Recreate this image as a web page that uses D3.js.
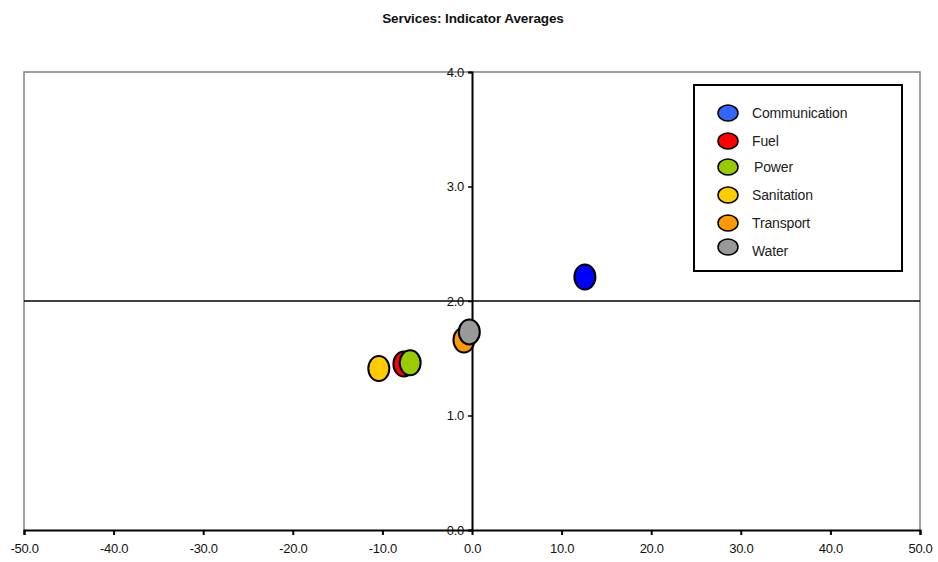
<!DOCTYPE html>
<html><head><meta charset="utf-8">
<script src="https://cdn.jsdelivr.net/npm/d3@7"></script>
<style>body{margin:0;background:#fff}svg{display:block;font-family:"Liberation Sans",Arial,sans-serif}</style>
</head><body><svg id="c" width="938" height="562"></svg>
<script>
const categories = ["Communication","Fuel","Power","Sanitation","Transport","Water"];
const xValues = [12.6, -7.6, -6.9, -10.4, -0.9, -0.3];
const yValues = [2.21, 1.45, 1.46, 1.41, 1.66, 1.73];
const pointColors = ["#0000FF","#FF0000","#99CC00","#FFCC00","#FF9900","#999999"];
const legendColors = ["#3366FF","#FF0000","#99CC00","#FFCC00","#FF9900","#999999"];
const xTicks = [-50,-40,-30,-20,-10,0,10,20,30,40,50];
const yTicks = [0,1,2,3,4];
const drawOrder = [3,1,2,4,5,0];

const svg = d3.select("#c");
const L=24,R=920,T=72,B=530;
const x = d3.scaleLinear().domain([-50,50]).range([L,R]);
const y = d3.scaleLinear().domain([0,4]).range([B,T]);
const fmt = d => d.toFixed(1);

svg.append("text").attr("x",473).attr("y",23).attr("text-anchor","middle")
  .attr("font-weight","bold").attr("font-size",13.5).attr("letter-spacing",-0.1).attr("fill","#111")
  .text("Services: Indicator Averages");

// plot border (grey)
svg.append("path").attr("d",`M${L},${B}V${T}H${R}V${B}`).attr("fill","none").attr("stroke","#808080").attr("stroke-width",1.5);

// horizontal line at y=2
svg.append("line").attr("x1",L).attr("x2",R).attr("y1",y(2)).attr("y2",y(2)).attr("stroke","#000").attr("stroke-width",1.5);

// x axis
const xa = svg.append("g").attr("transform",`translate(0,${B})`)
  .call(d3.axisBottom(x).tickValues(xTicks).tickFormat(fmt).tickSizeOuter(0).tickSize(5).tickPadding(9));
xa.select(".domain").attr("stroke","#000").attr("stroke-width",2);
xa.selectAll(".tick line").attr("stroke","#000").attr("stroke-width",2);
xa.selectAll("text").attr("font-size",13).attr("letter-spacing",-0.3).attr("fill","#111").attr("font-family","Liberation Sans, Arial, sans-serif");

// y axis at x=0
const ya = svg.append("g").attr("transform",`translate(${x(0)},0)`)
  .call(d3.axisLeft(y).tickValues(yTicks).tickFormat(fmt).tickSizeOuter(0).tickSize(4).tickPadding(4));
ya.select(".domain").attr("stroke","#000").attr("stroke-width",2);
ya.selectAll(".tick line").attr("stroke","#000").attr("stroke-width",1.5);
ya.selectAll("text").attr("font-size",13).attr("letter-spacing",-0.3).attr("fill","#111").attr("font-family","Liberation Sans, Arial, sans-serif");

// points
svg.append("g").selectAll("ellipse").data(drawOrder).join("ellipse")
  .attr("cx",i=>x(xValues[i])).attr("cy",i=>y(yValues[i]))
  .attr("rx",10.5).attr("ry",12.5)
  .attr("fill",i=>pointColors[i]).attr("stroke","#000").attr("stroke-width",2);

// legend
const lg = svg.append("g");
lg.append("rect").attr("x",694).attr("y",85).attr("width",208).attr("height",186)
  .attr("fill","#fff").attr("stroke","#000").attr("stroke-width",2);
const rowsY = [113,141,167,195,223,247];
const items = lg.selectAll("g.item").data(categories).join("g").attr("class","item");
items.append("ellipse").attr("cx",728).attr("cy",(d,i)=>rowsY[i]).attr("rx",10).attr("ry",8)
  .attr("fill",(d,i)=>legendColors[i]).attr("stroke","#000").attr("stroke-width",1.5);
items.append("text").attr("x",(d,i)=>i===2?754:752).attr("y",(d,i)=>rowsY[i]+(i===5?4:0)).attr("dy","0.35em")
  .attr("font-size",14).attr("letter-spacing",-0.15).attr("fill","#222").text(d=>d);
</script></body></html>
